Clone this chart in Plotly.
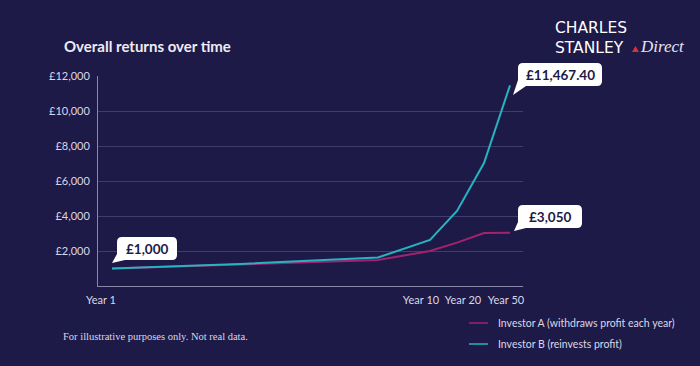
import plotly.graph_objects as go

# ---- data ----
x_points = [14, 142, 280, 332, 359, 386, 412]          # horizontal positions of the series points
investor_a = [1000, 1250, 1480, 2000, 2480, 3030, 3050]
investor_b = [1000, 1260, 1630, 2630, 4290, 7030, 11467.40]
series_names = ["Investor A (withdraws profit each year)", "Investor B (reinvests profit)"]
tick_pos = [3, 323, 365, 408]
tick_labels = ["Year 1", "Year 10", "Year 20", "Year 50"]
y_ticks = [2000, 4000, 6000, 8000, 10000, 12000]
y_tick_labels = ["£2,000", "£4,000", "£6,000", "£8,000", "£10,000", "£12,000"]
callouts = [("£1,000", 0, investor_a[0]), ("£3,050", 6, investor_a[-1]), ("£11,467.40", 6, investor_b[-1])]

BG = "#1e1a47"
MAGENTA = "#a3226f"
TEAL = "#27b3bf"
TXT = "#d9d7e8"

L, R, T, B = 98, 177, 76, 80
W, H = 700, 366
PW, PH = W - L - R, H - T - B
X_RANGE = [0, PW]
Y_RANGE = [0, 12000]

def px(x):
    return (x - L) / PW

def py(y):
    return (H - B - y) / PH

def data_to_paper_x(v):
    return (v - X_RANGE[0]) / (X_RANGE[1] - X_RANGE[0])

def data_to_paper_y(v):
    return (v - Y_RANGE[0]) / (Y_RANGE[1] - Y_RANGE[0])

fig = go.Figure()
fig.add_trace(go.Scatter(x=x_points, y=investor_a, mode="lines", name=series_names[0],
                         line=dict(color=MAGENTA, width=2), showlegend=False))
fig.add_trace(go.Scatter(x=x_points, y=investor_b, mode="lines", name=series_names[1],
                         line=dict(color=TEAL, width=2), showlegend=False))

def bubble(x0, x1, y0, y1, tip, r=5, tb=8, ts=6):
    tx, ty = tip
    return (f"M {x0+r},{y1} L {x1-r},{y1} Q {x1},{y1} {x1},{y1-r} L {x1},{y0+r} "
            f"Q {x1},{y0} {x1-r},{y0} L {x0+tb},{y0} L {tx},{ty} L {x0},{y0+ts} "
            f"L {x0},{y1-r} Q {x0},{y1} {x0+r},{y1} Z")

# box geometry in pixels relative to the anchored data point (y up)
boxes = [
    (5, 65, 8.5, 31.5, (0, 5.5)),
    (8, 72, 4.6, 27.6, (4, 1.6)),
    (8, 92, -0.7, 22.3, (3, -9.7)),
]
shapes = []
annotations = []
for (label, idx, val), (x0, x1, y0, y1, tip) in zip(callouts, boxes):
    shapes.append(dict(type="path", xref="paper", yref="paper", xsizemode="pixel", ysizemode="pixel",
                       xanchor=data_to_paper_x(x_points[idx]), yanchor=data_to_paper_y(val),
                       path=bubble(x0, x1, y0, y1, tip),
                       fillcolor="white", line=dict(width=0), layer="above"))
    annotations.append(dict(x=x_points[idx], y=val, xref="x", yref="y", text=f"<b>{label}</b>",
                            showarrow=False, xanchor="center", yanchor="middle",
                            xshift=(x0 + x1) / 2, yshift=(y0 + y1) / 2,
                            font=dict(family="Lato", size=13.5, color=BG)))

# title
annotations.append(dict(x=px(62), y=py(46), xref="paper", yref="paper", text="<b>Overall returns over time</b>",
                        showarrow=False, xanchor="left", yanchor="middle",
                        font=dict(family="Lato", size=15, color="#eeecf6")))
# logo
annotations.append(dict(x=px(553), y=py(37.5), xref="paper", yref="paper", text="CHARLES<br>STANLEY",
                        showarrow=False, xanchor="left", yanchor="middle", align="left",
                        font=dict(family="DejaVu Sans", size=15.5, color="white")))
annotations.append(dict(x=px(638), y=py(46), xref="paper", yref="paper", text="<i>Direct</i>",
                        showarrow=False, xanchor="left", yanchor="middle",
                        font=dict(family="Liberation Serif", size=17, color="#e6e4f2")))
shapes.append(dict(type="path", xref="paper", yref="paper",
                   path=f"M {px(632)},{py(52)} L {px(639)},{py(52)} L {px(635.5)},{py(46)} Z",
                   fillcolor="#d0343e", line=dict(width=0)))
# footnote
annotations.append(dict(x=px(61), y=py(336), xref="paper", yref="paper",
                        text="For illustrative purposes only. Not real data.",
                        showarrow=False, xanchor="left", yanchor="middle",
                        font=dict(family="Liberation Serif", size=10.5, color=TXT)))
# legend (manual)
for name, color, ypix in [(series_names[0], MAGENTA, 323), (series_names[1], TEAL, 344)]:
    shapes.append(dict(type="line", xref="paper", yref="paper", x0=px(469), x1=px(488),
                       y0=py(ypix), y1=py(ypix), line=dict(color=color, width=1.5)))
    annotations.append(dict(x=px(496), y=py(ypix), xref="paper", yref="paper", text=name,
                            showarrow=False, xanchor="left", yanchor="middle",
                            font=dict(family="Lato", size=10.5, color=TXT)))

fig.update_layout(
    width=W, height=H, autosize=False,
    margin=dict(l=L, r=R, t=T, b=B, pad=0),
    paper_bgcolor=BG, plot_bgcolor=BG,
    showlegend=False,
    shapes=shapes, annotations=annotations,
    font=dict(family="Lato", color=TXT, size=11),
    xaxis=dict(range=X_RANGE, tickvals=tick_pos, ticktext=tick_labels, showgrid=False,
               zeroline=False, showline=True, linecolor="#8a87aa", linewidth=1,
               ticks="", ticklabelstandoff=4, tickfont=dict(family="Lato", size=11, color=TXT),
               fixedrange=True),
    yaxis=dict(range=Y_RANGE, tickvals=y_ticks, ticktext=y_tick_labels, showgrid=True,
               gridcolor="#3f3c6e", gridwidth=1, zeroline=False, showline=True,
               linecolor="#8a87aa", linewidth=1, ticks="", ticklabelstandoff=5,
               tickfont=dict(family="Lato", size=11, color=TXT), fixedrange=True),
)

fig.write_html("out.html", config=dict(displayModeBar=False))

# remove the default page margin so the figure sits at the window's top-left corner
with open("out.html", encoding="utf-8") as f:
    html = f.read()
html = html.replace("<body>", f'<body style="margin:0;background:{BG};">', 1)
with open("out.html", "w", encoding="utf-8") as f:
    f.write(html)
